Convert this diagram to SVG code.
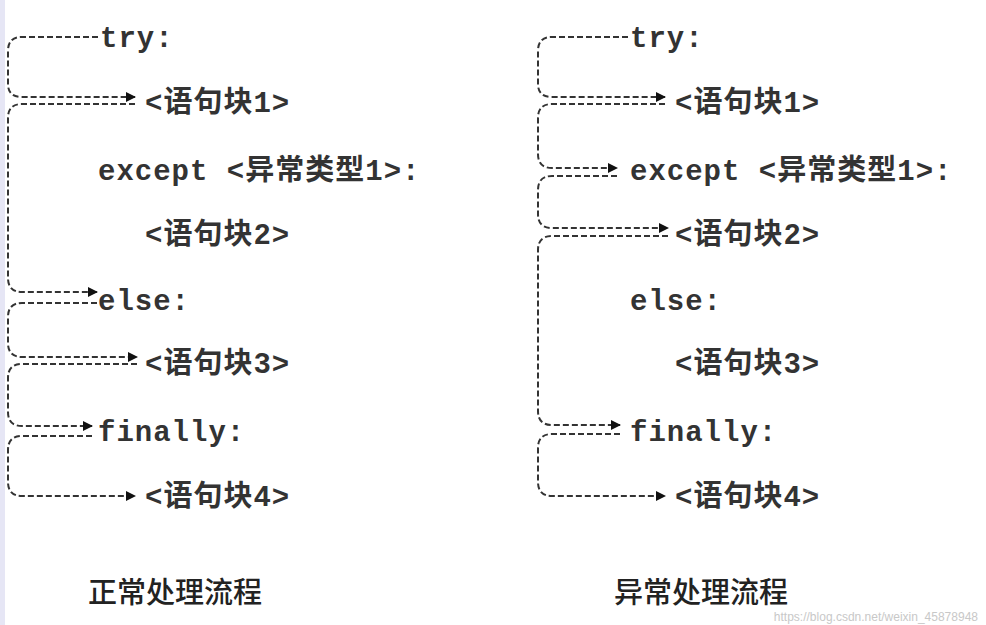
<svg xmlns="http://www.w3.org/2000/svg" width="986" height="625" viewBox="0 0 986 625">
<style>
.t{font-family:"Liberation Mono","Noto Sans CJK SC",monospace;font-weight:bold;font-size:29px;fill:#333;letter-spacing:1px}
.c{fill:none;stroke:#333;stroke-width:2;stroke-dasharray:6,3}
.h{font-family:"Noto Sans CJK SC",sans-serif;font-weight:500;font-size:29px;fill:#222}
</style>
<defs><marker id="a" viewBox="0 0 10 10" refX="9" refY="5" markerWidth="5" markerHeight="5" orient="auto"><path d="M0,0L10,5L0,10z" fill="#111"/></marker></defs>
<rect x="0" y="0" width="5" height="625" fill="#e6e6f5"/>
<g id="connectors">
<path class="c" marker-end="url(#a)" d="M98,37H22Q8,37 8,51V84Q8,97 22,97H135"/>
<path class="c" marker-end="url(#a)" d="M135,104H22Q8,104 8,118V278Q8,292 22,292H97"/>
<path class="c" marker-end="url(#a)" d="M97,303H22Q8,303 8,317V343Q8,357 22,357H137"/>
<path class="c" marker-end="url(#a)" d="M137,364H22Q8,364 8,378V412Q8,426 22,426H92"/>
<path class="c" marker-end="url(#a)" d="M92,436H22Q8,436 8,450V482Q8,496 22,496H135"/>
<path class="c" marker-end="url(#a)" d="M628,37H552Q538,37 538,51V84Q538,97 552,97H665"/>
<path class="c" marker-end="url(#a)" d="M665,104H552Q538,104 538,118V154Q538,168 552,168H617"/>
<path class="c" marker-end="url(#a)" d="M617,176H552Q538,176 538,190V214Q538,228 552,228H668"/>
<path class="c" marker-end="url(#a)" d="M668,236H552Q538,236 538,250V411Q538,425 552,425H620"/>
<path class="c" marker-end="url(#a)" d="M620,434H552Q538,434 538,448V482Q538,496 552,496H665"/>
</g>
<g id="left">
<text class="t" x="100" y="47">try:</text>
<text class="t" x="145" y="112">&lt;语句块1&gt;</text>
<text class="t" x="98" y="180">except &lt;异常类型1&gt;:</text>
<text class="t" x="145" y="244">&lt;语句块2&gt;</text>
<text class="t" x="98" y="310">else:</text>
<text class="t" x="145" y="373">&lt;语句块3&gt;</text>
<text class="t" x="98" y="441">finally:</text>
<text class="t" x="145" y="506">&lt;语句块4&gt;</text>
<text class="h" x="88" y="603">正常处理流程</text>
</g>
<g id="right">
<text class="t" x="630" y="47">try:</text>
<text class="t" x="675" y="112">&lt;语句块1&gt;</text>
<text class="t" x="630" y="180">except &lt;异常类型1&gt;:</text>
<text class="t" x="675" y="244">&lt;语句块2&gt;</text>
<text class="t" x="630" y="310">else:</text>
<text class="t" x="675" y="373">&lt;语句块3&gt;</text>
<text class="t" x="630" y="441">finally:</text>
<text class="t" x="675" y="506">&lt;语句块4&gt;</text>
<text class="h" x="614" y="603">异常处理流程</text>
</g>
<text x="978" y="621" text-anchor="end" font-family="Liberation Sans,sans-serif" font-size="12" fill="#c8c8c8">https://blog.csdn.net/weixin_45878948</text>
</svg>
